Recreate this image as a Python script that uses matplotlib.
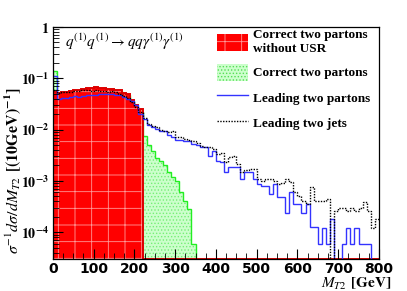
import numpy as np
import matplotlib
matplotlib.use("Agg")
import matplotlib.pyplot as plt
from matplotlib.patches import Patch
from matplotlib.lines import Line2D
from matplotlib.ticker import FixedLocator, MultipleLocator, LogLocator, NullFormatter

plt.rcParams['mathtext.fontset'] = 'stix'
plt.rcParams['hatch.linewidth'] = 0.6

# 10 GeV bins, 0-800 GeV
edges = np.arange(0, 810, 10)

# correct two partons without USR (0-220 GeV)
red = [0.055, 0.052, 0.053, 0.055, 0.056, 0.058, 0.060, 0.062, 0.066, 0.064,
       0.068, 0.065, 0.066, 0.062, 0.063, 0.058, 0.060, 0.052, 0.050, 0.038,
       0.030, 0.025]

# correct two partons (0-350 GeV)
green = [0.14, 0.050, 0.051, 0.053, 0.054, 0.056, 0.058, 0.060, 0.063, 0.062,
         0.065, 0.063, 0.064, 0.060, 0.061, 0.056, 0.057, 0.050, 0.047, 0.036,
         0.028, 0.022, 0.0075, 0.0050, 0.0038, 0.0028, 0.0024, 0.0020, 0.0015,
         0.0012, 0.0010, 0.0006, 0.0004, 0.00028, 0.00006]

# leading two partons
blue = [0.11, 0.040, 0.042, 0.042, 0.044, 0.045, 0.043, 0.046, 0.047, 0.048,
        0.047, 0.049, 0.050, 0.049, 0.050, 0.048, 0.047, 0.044, 0.040, 0.036,
        0.030, 0.020, 0.016, 0.0125, 0.011, 0.0105, 0.0093, 0.0093, 0.0080, 0.0072,
        0.0064, 0.0064, 0.0060, 0.0059, 0.0052, 0.0050, 0.0045, 0.0045, 0.0030, 0.0038,
        0.0024, 0.0023, 0.0015, 0.0019, 0.0019, 0.0019, 0.0011, 0.0015, 0.0015, 0.0011,
        0.00086, 0.00079, 0.00079, 0.00055, 0.00086, 0.00048, 0.00048, 0.00024, 0.00062, 0.00035,
        0.00035, 0.00024, 0.00035, 0.000126, 0.000126, 0.000058, 0.00012, 0.000058, 0.00018, 0.0,
        0.0, 0.000058, 0.00012, 0.000058, 0.00012, 0.000058, 0.000058, 0.000058, 0.0, 0.0]

# leading two jets
black = [0.060, 0.052, 0.054, 0.055, 0.055, 0.056, 0.057, 0.058, 0.058, 0.057,
         0.058, 0.057, 0.057, 0.055, 0.056, 0.054, 0.050, 0.046, 0.042, 0.034,
         0.028, 0.022, 0.017, 0.013, 0.012, 0.011, 0.0098, 0.0095, 0.0088, 0.0092,
         0.0072, 0.0073, 0.0065, 0.0062, 0.0060, 0.0055, 0.0048, 0.0045, 0.0045, 0.0041,
         0.0033, 0.0035, 0.0023, 0.0029, 0.0030, 0.0021, 0.0015, 0.0016, 0.0017, 0.0017,
         0.0011, 0.0010, 0.0011, 0.0011, 0.0010, 0.00086, 0.0009, 0.0011, 0.00095, 0.00062,
         0.0005, 0.00040, 0.00035, 0.00075, 0.00040, 0.00040, 0.00040, 0.00045, 0.0, 0.00026,
         0.00030, 0.00030, 0.00026, 0.00030, 0.00026, 0.00030, 0.00039, 0.00026, 0.00012, 0.00018]

ymin, ymax = 3e-5, 1.0
floor = 1e-7

fig = plt.figure(figsize=(4.07, 2.91), dpi=100)
ax = fig.add_axes([0.130, 0.110, 0.801, 0.797])
ax.set_yscale('log')

nr = len(red)
ng = len(green)
ax.stairs(green, edges[:ng + 1], fill=True, baseline=floor, facecolor='#ccffcc',
          edgecolor='#77ee77', hatch='.....', lw=0)
ax.stairs(green, edges[:ng + 1], baseline=floor, color='#22ee22', lw=1.0)
ax.stairs(red, edges[:nr + 1], fill=True, baseline=floor, facecolor='#ff0000',
          edgecolor='#ff9999', hatch='+', lw=0)
red_full = np.maximum(np.r_[red, np.zeros(80 - nr)], ymin)
ax.stairs(red_full, edges, baseline=None, color='#dd0000', lw=1.4)

ax.stairs(np.maximum(blue, floor), edges, baseline=None, color='#3333ff', lw=1.0)
ax.stairs(np.maximum(black, floor), edges, baseline=None, color='black', lw=1.0,
          linestyle=(0, (1, 1)))

ax.set_xlim(0, 800)
ax.set_ylim(ymin, ymax)

# ticks
ax.xaxis.set_major_locator(MultipleLocator(100))
ax.xaxis.set_minor_locator(MultipleLocator(25))
ax.yaxis.set_major_locator(FixedLocator([1e-4, 1e-3, 1e-2, 1e-1, 1]))
ax.yaxis.set_minor_locator(LogLocator(base=10, subs=np.arange(2, 10)))
ax.yaxis.set_minor_formatter(NullFormatter())
ax.set_yticklabels([r'$\mathbf{10^{-4}}$', r'$\mathbf{10^{-3}}$', r'$\mathbf{10^{-2}}$',
                    r'$\mathbf{10^{-1}}$', r'$\mathbf{1}$'])
ax.tick_params(which='both', direction='in', top=False, right=False)
ax.tick_params(which='major', length=7, width=0.8, labelsize=10, pad=3)
ax.tick_params(axis='x', which='major', pad=2)
ax.tick_params(which='minor', length=4, width=0.6)
plt.setp(ax.get_xticklabels(), fontweight='bold', family='DejaVu Sans')
plt.setp(ax.get_yticklabels(), fontweight='bold', family='DejaVu Sans')
for s in ax.spines.values():
    s.set_linewidth(0.9)

ax.text(0.037, 0.935, r'$q^{(1)}q^{(1)} \rightarrow qq\gamma^{(1)}\gamma^{(1)}$',
        transform=ax.transAxes, fontsize=11, va='center', ha='left')

ax.set_ylabel(r'$\sigma^{-1}d\sigma/dM_{T2}$ $\mathbf{[(10GeV)^{-1}]}$', fontsize=11.5)
ax.yaxis.set_label_coords(-0.092, 0.38)
ax.set_xlabel(r'$M_{T2}$ $\mathbf{[GeV]}$', fontsize=11)
ax.xaxis.set_label_coords(1.04, -0.073)
ax.xaxis.label.set_horizontalalignment('right')
ax.xaxis.label.set_verticalalignment('top')

handles = [
    Patch(facecolor='#ff0000', edgecolor='#ff9999', hatch='+', lw=0),
    Patch(facecolor='#ccffcc', edgecolor='#55dd55', hatch='.....', lw=0),
    Line2D([], [], color='#3333ff', lw=1.0),
    Line2D([], [], color='black', lw=1.0, linestyle=(0, (1, 1))),
]
labels = ['Correct two partons\nwithout USR', 'Correct two partons',
          'Leading two partons', 'Leading two jets']
leg = ax.legend(handles, labels, loc='upper left', bbox_to_anchor=(0.48, 1.025),
                frameon=False, prop={'family': 'Liberation Serif', 'weight': 'bold', 'size': 9.5},
                handlelength=2.3, handleheight=1.6, handletextpad=0.4, labelspacing=0.65,
                borderaxespad=0.2)

fig.savefig('out.png', dpi=100)
